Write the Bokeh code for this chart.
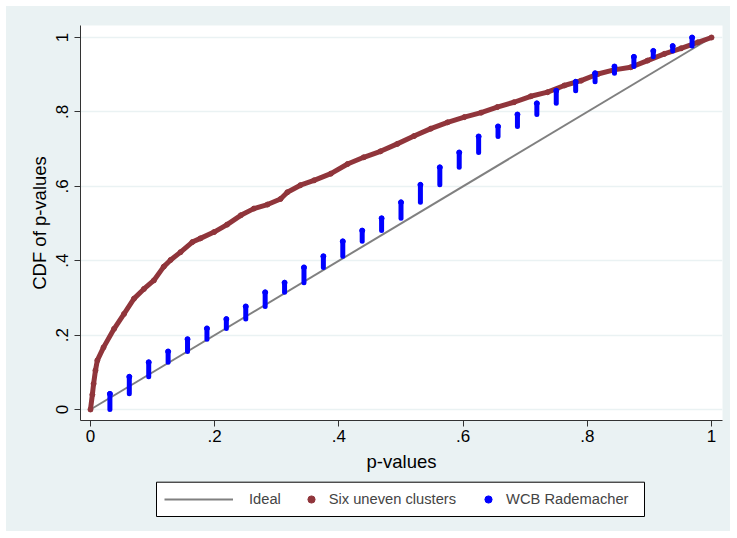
from bokeh.plotting import figure
from bokeh.layouts import column
from bokeh.models import (Range1d, FixedTicker, CustomJSTickFormatter, Legend, LegendItem,
                          BoxAnnotation)
from bokeh.embed import file_html
from bokeh.resources import INLINE

# ---- data ----
ideal_x = [0.0, 1.0]
ideal_y = [0.0, 1.0]

six_x = [0.0, 0.003, 0.005, 0.008, 0.011, 0.021, 0.038, 0.054, 0.070, 0.086, 0.102, 0.118,
         0.129, 0.145, 0.164, 0.177, 0.199, 0.220, 0.242, 0.263, 0.285, 0.306, 0.317, 0.338,
         0.360, 0.387, 0.414, 0.440, 0.467, 0.494, 0.521, 0.548, 0.575, 0.602, 0.629, 0.655,
         0.682, 0.709, 0.736, 0.763, 0.790, 0.817, 0.843, 0.870, 0.897, 0.924, 0.951, 0.978, 1.0]
six_y = [0.0, 0.040, 0.069, 0.105, 0.132, 0.167, 0.217, 0.257, 0.298, 0.324, 0.347, 0.384,
         0.402, 0.423, 0.450, 0.460, 0.477, 0.497, 0.522, 0.540, 0.551, 0.566, 0.584, 0.603,
         0.616, 0.634, 0.660, 0.678, 0.694, 0.714, 0.735, 0.755, 0.772, 0.786, 0.798, 0.813,
         0.826, 0.842, 0.853, 0.871, 0.884, 0.902, 0.913, 0.920, 0.938, 0.956, 0.971, 0.987, 1.0]

wcb_x = [k / 32 for k in range(1, 32)]
wcb_cdf = [0.042, 0.088, 0.127, 0.156, 0.189, 0.218, 0.243, 0.277, 0.315, 0.341, 0.382,
           0.412, 0.452, 0.481, 0.514, 0.557, 0.604, 0.651, 0.691, 0.734, 0.761, 0.793,
           0.823, 0.857, 0.881, 0.904, 0.922, 0.948, 0.964, 0.977, 1.0]
wcb_lo = [0.0] + wcb_cdf[:-1]

x_ticks = [0, 0.2, 0.4, 0.6, 0.8, 1]
y_ticks = [0, 0.2, 0.4, 0.6, 0.8, 1]

legend_labels = ["Ideal", "Six uneven clusters", "WCB Rademacher"]

RED = "#90353B"
BLUE = "#0000FF"
GRAY = "#808080"
BG = "#EAF2F3"
FONT = "Liberation Sans"

# ---- main chart ----
p = figure(width=724, height=470, x_range=Range1d(-0.0161, 1.0177),
           y_range=Range1d(-0.0296, 1.0323), output_backend="svg", toolbar_location=None,
           min_border_left=74, min_border_right=8, min_border_top=19, min_border_bottom=56,
           background_fill_color="white", border_fill_color=BG, outline_line_color=None,
           margin=(0, 0, 0, 0))

fmt = CustomJSTickFormatter(code="""
if (Math.abs(tick) < 1e-9) return "0";
if (Math.abs(tick - 1) < 1e-9) return "1";
return tick.toFixed(1).replace(/^0/, "");
""")

for ax, ticks in ((p.xaxis, x_ticks), (p.yaxis, y_ticks)):
    ax.ticker = FixedTicker(ticks=ticks)
    ax.formatter = fmt
    ax.minor_tick_line_color = None
    ax.major_tick_in = 0
    ax.major_tick_out = 6
    ax.axis_line_color = "#333333"
    ax.major_tick_line_color = "#333333"
    ax.major_label_text_font = FONT
    ax.major_label_text_font_size = "17px"
    ax.major_label_text_color = "black"
    ax.axis_label_text_font = FONT
    ax.axis_label_text_font_size = "18.5px"
    ax.axis_label_text_font_style = "normal"
    ax.axis_label_text_color = "black"

p.xaxis.axis_label = "p-values"
p.yaxis.axis_label = "CDF of p-values"
p.yaxis.major_label_orientation = "vertical"
p.xaxis.major_label_standoff = 3
p.xaxis.axis_label_standoff = 6
p.yaxis.major_label_standoff = 6
p.yaxis.axis_label_standoff = 4

p.xgrid.visible = False
p.ygrid.grid_line_color = BG
p.ygrid.grid_line_width = 1.5

p.line(ideal_x, ideal_y, color=GRAY, line_width=2)
p.line(six_x, six_y, color=RED, line_width=5, line_join="round", line_cap="round")
p.scatter(six_x, six_y, size=5, color=RED)
p.segment(x0=wcb_x, y0=wcb_lo, x1=wcb_x, y1=wcb_cdf, color=BLUE, line_width=5,
          line_cap="round")
p.scatter(wcb_x, wcb_cdf, size=5, color=BLUE)

# ---- legend strip below (frame aligned with the chart's frame) ----
q = figure(width=724, height=55, x_range=Range1d(0, 1), y_range=Range1d(0, 1),
           output_backend="svg", toolbar_location=None,
           min_border_left=74, min_border_right=8, min_border_top=0, min_border_bottom=0,
           background_fill_color=BG, border_fill_color=BG,
           outline_line_color=None, margin=(0, 0, 0, 0))
q.xaxis.visible = False
q.yaxis.visible = False
q.grid.visible = False

# hidden copies of the series, used only for the legend glyphs
r_ideal = q.line(ideal_x, ideal_y, color=GRAY, line_width=2, visible=False)
r_six = q.scatter(six_x, six_y, size=7, color=RED, visible=False)
r_wcb = q.scatter(wcb_x, wcb_cdf, size=7, color=BLUE, visible=False)

box = BoxAnnotation(left=150, right=638, top=5.7, bottom=40,
                    left_units="canvas", right_units="canvas",
                    top_units="canvas", bottom_units="canvas",
                    fill_color="white", fill_alpha=1, line_color="black", line_width=1,
                    line_alpha=1)
q.add_layout(box)

leg_a = Legend(items=[LegendItem(label=legend_labels[0], renderers=[r_ideal])],
               location=(84, 23), orientation="horizontal", glyph_width=69, glyph_height=18,
               label_standoff=16, padding=0, margin=0, border_line_color=None,
               background_fill_alpha=0, label_text_font=FONT, label_text_font_size="14.7px",
               label_height=18)
leg_b = Legend(items=[LegendItem(label=legend_labels[1], renderers=[r_six]),
                      LegendItem(label=legend_labels[2], renderers=[r_wcb])],
               location=(221.7, 23), orientation="horizontal", glyph_width=18, glyph_height=18,
               label_standoff=9, spacing=23, padding=0, margin=0, border_line_color=None,
               background_fill_alpha=0, label_text_font=FONT, label_text_font_size="14.7px",
               label_height=18)
q.add_layout(leg_a)
q.add_layout(leg_b)

layout = column(p, q, spacing=0, margin=(6, 0, 0, 6), styles={"background-color": BG})

open("out.html", "w").write(file_html(layout, INLINE))
